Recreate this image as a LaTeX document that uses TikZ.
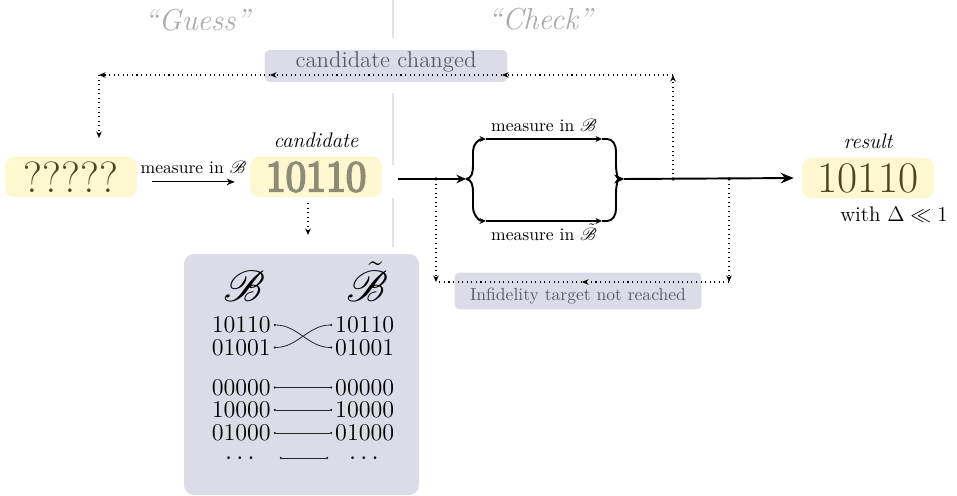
\documentclass[tikz,border=0pt]{standalone}
\usepackage{amsmath,amssymb}
\usepackage{mathrsfs}
\usepackage{fontspec}
\newfontfamily\fuzzyfont[FakeBold=5]{Latin Modern Roman}
\usepackage{tikz}
\usetikzlibrary{arrows.meta,positioning,calc}
\definecolor{GuessGray}{HTML}{ABABAB}
\definecolor{SplitGray}{HTML}{E3E3E3}
\definecolor{BitYellow}{HTML}{FFF7D0}
\definecolor{BitOlive}{HTML}{4A4521}
\definecolor{NoteLilac}{HTML}{DCDCE8}
\definecolor{NoteText}{HTML}{5A5A68}
\newcommand{\bas}{\mathscr{B}}
\newcommand{\tbas}{\tilde{\mathscr{B}}}
\tikzset{
  bitbox/.style={fill=BitYellow,rounded corners=2mm,text=BitOlive,font=\Huge,minimum width=2.64cm,minimum height=0.82cm,inner sep=0pt},
  blurbox/.style={bitbox,text=BitOlive!62,font=\fuzzyfont\Huge},
  notebox/.style={fill=NoteLilac,rounded corners=1mm,text=NoteText,inner sep=0pt},
  phase/.style={text=GuessGray,font=\LARGE\itshape},
  rowbit/.style={font=\fontsize{13.7}{16}\selectfont,inner sep=0.5pt},
  mainline/.style={line width=1.1pt,draw=black},
  entrytip/.style={-{Stealth[length=1.9mm,width=1.7mm]}},
  branchtip/.style={-{Stealth[length=1.3mm,width=1.2mm]}},
  endtip/.style={-{Stealth[length=2.6mm,width=2.1mm]}},
  thinarrow/.style={-{Stealth[length=1.6mm,width=1.3mm]},line width=0.6pt},
  loopline/.style={dotted,line width=0.6pt,-{Stealth[length=1.3mm,width=1.1mm]}},
  loopplain/.style={dotted,line width=0.6pt},
  basislink/.style={{Circle[length=1.3pt]}-{Circle[length=1.3pt]},line width=0.45pt,draw=black!85,shorten <=1pt,shorten >=1pt},
  divider/.style={draw=SplitGray,line width=0.8pt}
}

\begin{document}
\begin{tikzpicture}[x=0.02cm,y=-0.02cm]
\useasboundingbox (0,0) rectangle (957,496);

% guess | check divider
\draw[divider] (393,0) -- (393,38);
\draw[divider] (393,93) -- (393,165);
\draw[divider] (393,198) -- (393,247);
\node[phase] (guess) at (197,20) {“Guess”};
\node[phase] (check) at (540,19) {“Check”};

% notes
\node[notebox,minimum width=4.86cm,minimum height=0.64cm,font=\fontsize{13}{15}\selectfont,text height=6pt,text depth=4.4pt] (changed) at (386,66) {candidate changed};
\node[notebox,minimum width=4.94cm,minimum height=0.74cm,text height=10.5pt,text depth=0pt] (notreached) at (578,291) {Infidelity target not reached};

% guess part
\node[bitbox] (q) at (71,177) {?????};
\node[blurbox] (cand) at (316,177) {10110};
\node[font=\large\itshape,above=1pt of cand] (candlab) {candidate};
\draw[thinarrow,shorten <=8.5pt,shorten >=8.5pt] ([yshift=-2.8pt]q.east) -- ([yshift=-2.8pt]cand.west)
  node[midway,above=1pt] (measq) {measure in $\bas$};

% basis box
\node[notebox,rounded corners=2mm,minimum width=4.7cm,minimum height=4.82cm] (bbox) at (301.5,374.5) {};
\node[font=\Huge,anchor=base,inner sep=0pt] (bl) at (244,302) {$\bas$};
\node[font=\Huge,anchor=base,inner sep=0pt] (br) at (367,302) {$\tbas$};
\node[rowbit,anchor=east] (l1) at (272,325) {10110};
\node[rowbit,anchor=east] (l2) at (272,347.5) {01001};
\node[rowbit,anchor=east] (l3) at (272,387.5) {00000};
\node[rowbit,anchor=east] (l4) at (272,410) {10000};
\node[rowbit,anchor=east] (l5) at (272,433) {01000};
\node[rowbit,anchor=west] (r1) at (334,325) {10110};
\node[rowbit,anchor=west] (r2) at (334,347.5) {01001};
\node[rowbit,anchor=west] (r3) at (334,387.5) {00000};
\node[rowbit,anchor=west] (r4) at (334,410) {10000};
\node[rowbit,anchor=west] (r5) at (334,433) {01000};
\node[rowbit,inner sep=0pt] (ld) at (242,459) {$\cdots$};
\node[rowbit,inner sep=0pt] (rd) at (366,459) {$\cdots$};
\coordinate (dl) at (278,458);
\coordinate (dr) at (330,458);
\draw[basislink] (l1.east) to[out=0,in=180] (r2.west);
\draw[basislink] (l2.east) to[out=0,in=180] (r1.west);
\foreach \i in {3,4,5}
  \draw[basislink] (l\i.east) -- (r\i.west);
\draw[basislink] (dl) -- (dr);

% check part
\node[bitbox] (res) at (868,178) {10110};
\node[font=\large\itshape,above=1pt of res] (reslab) {result};
\node[font=\large,anchor=north,yshift=-1pt] (cond) at ([xshift=0.52cm]res.south) {with $\Delta \ll 1$};

\coordinate (mstart) at (398,179);
\coordinate (split) at (466,179);
\coordinate (join) at (624,179);
\coordinate (ua) at (486,139);
\coordinate (ub) at (602,139);
\coordinate (la) at (486,221);
\coordinate (lb) at (602,221);
\draw[mainline,entrytip] (mstart) -- (split);
\draw[mainline,branchtip] (split) to[out=0,in=-90] (473,166) -- (473,151) to[out=90,in=180] (ua);
\draw[mainline,branchtip] (split) to[out=0,in=90] (473,192) -- (473,207) to[out=-90,in=180] (la);
\draw[mainline,branchtip] (ua) -- (ub) node[midway,above=0pt,text=black] (measu) {measure in $\bas$};
\draw[mainline,branchtip] (la) -- (lb) node[midway,below=0pt,inner sep=1pt,text=black] (measl) {measure in $\tbas$};
\draw[mainline,entrytip] (ub) -- (607,139) to[out=0,in=90] (616,151) -- (616,166) to[out=-90,in=180] (join);
\draw[mainline,entrytip] (lb) -- (607,221) to[out=0,in=-90] (616,209) -- (616,192) to[out=90,in=180] (join);
\draw[mainline,endtip,shorten >=4.5pt] (join) -- (res.west);

% feedback loops
\coordinate (tap) at (673,179);
\coordinate (tr) at (673,75);
\coordinate (cr) at (502,75);
\coordinate (cl) at (270,75);
\coordinate (tl) at (99,75);
\coordinate (qin) at (99,138);
\coordinate (bap) at (729,179);
\coordinate (brc) at (729,282);
\coordinate (bm) at (582,282);
\coordinate (blc) at (436,282);
\coordinate (bap2) at (436,179);
\coordinate (cd1) at (308,203);
\coordinate (cd2) at (308,235);
\draw[loopline] (tap) -- (tr);
\draw[loopline] (tr) -- (cr);
\draw[loopline] (cr) -- (cl);
\draw[loopline] (cl) -- (tl);
\draw[loopline] (tl) -- (qin);
\draw[loopline] (bap) -- (brc);
\draw[loopline] (brc) -- (bm);
\draw[loopplain] (bm) -- (blc);
\draw[loopline] (bap2) -- (blc);
\draw[loopline] (cd1) -- (cd2);
\foreach \p in {tap,bap,bap2}
  \fill (\p) circle (1pt);
\end{tikzpicture}
\end{document}
